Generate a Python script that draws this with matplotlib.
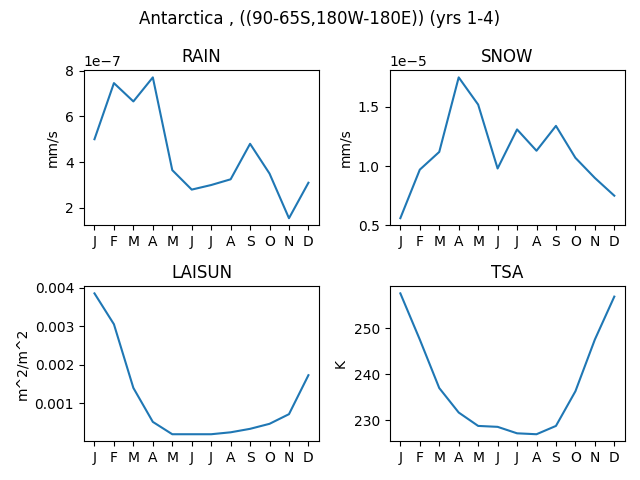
import matplotlib
matplotlib.use("Agg")
import matplotlib.pyplot as plt

months = ['J', 'F', 'M', 'A', 'M', 'J', 'J', 'A', 'S', 'O', 'N', 'D']
rain = [5.0e-7, 7.45e-7, 6.65e-7, 7.7e-7, 3.65e-7, 2.8e-7, 3.0e-7, 3.25e-7, 4.8e-7, 3.5e-7, 1.55e-7, 3.1e-7]
snow = [0.56e-5, 0.97e-5, 1.12e-5, 1.75e-5, 1.52e-5, 0.98e-5, 1.31e-5, 1.13e-5, 1.34e-5, 1.07e-5, 0.9e-5, 0.75e-5]
laisun = [0.00385, 0.00305, 0.0014, 0.00052, 0.0002, 0.0002, 0.0002, 0.00025, 0.00034, 0.00047, 0.00072, 0.00173]
tsa = [257.5, 247.5, 237.0, 231.7, 228.8, 228.6, 227.2, 227.0, 228.8, 236.3, 247.5, 256.8]

panels = [('RAIN', rain, 'mm/s'), ('SNOW', snow, 'mm/s'),
          ('LAISUN', laisun, 'm^2/m^2'), ('TSA', tsa, 'K')]

fig, axes = plt.subplots(2, 2, figsize=(6.4, 4.8), dpi=100)
x = range(len(months))
for ax, (name, vals, unit) in zip(axes.flat, panels):
    ax.plot(x, vals)
    ax.set_title(name)
    ax.set_ylabel(unit)
    ax.set_xticks(list(x))
    ax.set_xticklabels(months)

axes[0, 0].set_yticks([2e-7, 4e-7, 6e-7, 8e-7])
axes[0, 1].set_yticks([0.5e-5, 1.0e-5, 1.5e-5])
axes[1, 0].set_yticks([0.001, 0.002, 0.003, 0.004])

fig.suptitle('Antarctica , ((90-65S,180W-180E)) (yrs 1-4)')
fig.tight_layout()
fig.savefig('out.png')
